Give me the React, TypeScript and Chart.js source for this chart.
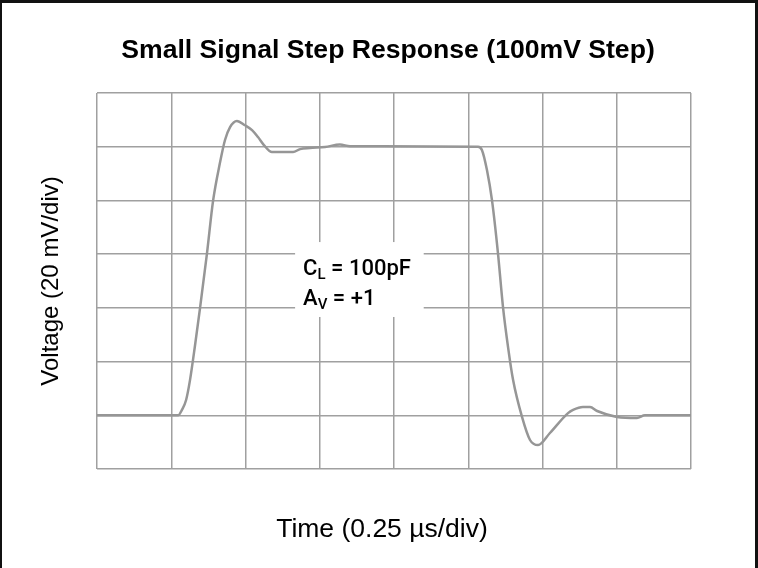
import React, { useEffect, useRef } from "react";
import { Chart, registerables } from "chart.js";

Chart.register(...registerables);

// Time in microseconds (0.25 us/div, 8 divisions)
const timeUs = [
  0, 0.273, 0.286, 0.3, 0.313, 0.33, 0.347, 0.37, 0.391, 0.414,
  0.431, 0.448, 0.471, 0.498, 0.522, 0.542, 0.562, 0.589, 0.625, 0.66,
  0.684, 0.717, 0.768, 0.818, 0.852, 1.283, 1.296, 1.313, 1.33, 1.35,
  1.367, 1.384, 1.401, 1.431, 1.458, 1.485, 1.525, 1.586, 1.603, 1.636,
  1.66, 1.684, 1.751, 1.818, 1.845, 2.0,
];
// Voltage in mV (20 mV/div, 7 divisions)
const voltageMv = [
  20, 20, 22, 25.7, 33, 46, 60, 80, 100, 114,
  122.5, 127.3, 129.6, 128, 126.2, 123.6, 120.6, 118, 118, 118,
  119.1, 119.5, 119.9, 120.8, 120.2, 120, 118.8, 111.3, 100, 80.4,
  60.3, 45.4, 33.1, 19.4, 10.8, 8.9, 13.4, 20.8, 22, 23.1,
  23.1, 21.6, 19.4, 19, 20, 20,
];

const xMin = 0;
const xMax = 2;
const xStep = 0.25;
const yMin = 0;
const yMax = 140;
const yStep = 20;

const titleText = "Small Signal Step Response (100mV Step)";
const xAxisTitle = "Time (0.25 µs/div)";
const yAxisTitle = "Voltage (20 mV/div)";
// [main, subscript, rest]
const annotationLines: [string, string, string][] = [
  ["C", "L", " = 100pF"],
  ["A", "V", " = +1"],
];
// annotation box & text anchor in data units
const annoBoxX = [0.667, 1.1];
const annoBoxY = [56.6, 84.5];
const annoTextX = 0.694;
const annoBaselinesY = [72.2, 61.1];

const GRID = "#a0a0a0";
const TRACE = "#969696";

const textPlugin = {
  id: "scopeTexts",
  beforeDatasetsDraw(chart: any) {
    const { ctx, scales } = chart;
    const x = scales.x, y = scales.y;
    const l = x.getPixelForValue(annoBoxX[0]);
    const r = x.getPixelForValue(annoBoxX[1]);
    const t = y.getPixelForValue(annoBoxY[1]);
    const b = y.getPixelForValue(annoBoxY[0]);
    ctx.save();
    ctx.fillStyle = "#ffffff";
    ctx.fillRect(l, t, r - l, b - t);
    ctx.restore();
  },
  afterDraw(chart: any) {
    const { ctx, chartArea, scales } = chart;
    ctx.save();
    ctx.fillStyle = "#000";
    ctx.textBaseline = "alphabetic";
    ctx.textAlign = "center";
    // title
    ctx.font = "bold 26.6px 'Liberation Sans', Arial, sans-serif";
    ctx.fillText(titleText, 388, 58);
    // x axis title
    ctx.font = "26.5px 'Liberation Sans', Arial, sans-serif";
    ctx.fillText(xAxisTitle, 382, 537);
    // y axis title
    ctx.font = "24px 'Liberation Sans', Arial, sans-serif";
    ctx.save();
    ctx.translate(58, (chartArea.top + chartArea.bottom) / 2);
    ctx.rotate(-Math.PI / 2);
    ctx.fillText(yAxisTitle, 0, 0);
    ctx.restore();
    // annotation
    ctx.textAlign = "left";
    const tx = scales.x.getPixelForValue(annoTextX);
    const big = "500 22px Roboto, 'DejaVu Sans', sans-serif";
    const small = "500 15px Roboto, 'DejaVu Sans', sans-serif";
    annotationLines.forEach((parts, i) => {
      const by = scales.y.getPixelForValue(annoBaselinesY[i]);
      let cx = tx;
      ctx.font = big;
      ctx.fillText(parts[0], cx, by);
      cx += ctx.measureText(parts[0]).width;
      ctx.font = small;
      ctx.fillText(parts[1], cx, by + 4);
      cx += ctx.measureText(parts[1]).width;
      ctx.font = big;
      ctx.fillText(parts[2], cx, by);
    });
    ctx.restore();
  },
};

export default function App() {
  const ref = useRef<HTMLCanvasElement | null>(null);
  useEffect(() => {
    if (!ref.current) return;
    const chart = new Chart(ref.current, {
      type: "line",
      data: {
        datasets: [
          {
            data: timeUs.map((t, i) => ({ x: t, y: voltageMv[i] })),
            borderColor: TRACE,
            borderWidth: 2.5,
            pointRadius: 0,
            cubicInterpolationMode: "monotone",
            fill: false,
          },
        ],
      },
      options: {
        responsive: false,
        animation: false,
        devicePixelRatio: 1,
        layout: { padding: { left: 97, top: 93, right: 67, bottom: 99 } },
        plugins: {
          legend: { display: false },
          title: { display: false },
          tooltip: { enabled: false },
        },
        scales: {
          x: {
            type: "linear",
            min: xMin,
            max: xMax,
            ticks: { display: false, stepSize: xStep },
            grid: { color: GRID, lineWidth: 1.5, drawTicks: false },
            border: { display: false },
          },
          y: {
            type: "linear",
            min: yMin,
            max: yMax,
            ticks: { display: false, stepSize: yStep },
            grid: { color: GRID, lineWidth: 1.5, drawTicks: false },
            border: { display: false },
          },
        },
      },
      plugins: [textPlugin],
    } as any);
    return () => chart.destroy();
  }, []);

  return (
    <div style={{ position: "fixed", left: 0, top: 0, width: 758, height: 568, background: "#fff" }}>
      <canvas ref={ref} width={758} height={568} style={{ display: "block" }} />
      <div
        style={{
          position: "absolute",
          left: 0,
          top: 0,
          width: 758,
          height: 568,
          boxSizing: "border-box",
          borderTop: "3px solid #111",
          borderLeft: "2px solid #111",
          borderRight: "3px solid #111",
          pointerEvents: "none",
        }}
      />
    </div>
  );
}
